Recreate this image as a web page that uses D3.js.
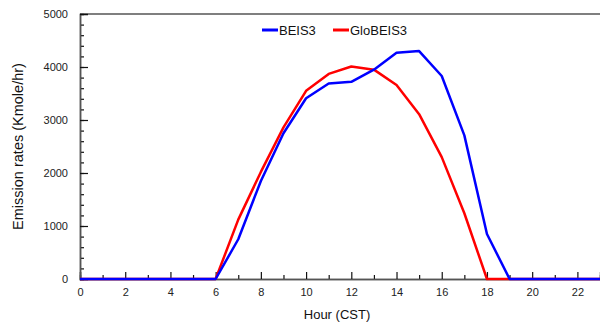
<!DOCTYPE html>
<html>
<head>
<meta charset="utf-8">
<script src="https://cdn.jsdelivr.net/npm/d3@7"></script>
<style>
  body { margin: 0; background: #fff; }
  svg { display: block; font-family: Arial, "Liberation Sans", sans-serif; }
</style>
</head>
<body>
<div id="chart"></div>
<script>
const hours = d3.range(0, 24);
const beis3 = [0, 0, 0, 0, 0, 0, 0, 750, 1850, 2750, 3410, 3690, 3720, 3950, 4270, 4300, 3830, 2710, 850, 0, 0, 0, 0, 0];
const globeis3 = [0, 0, 0, 0, 0, 0, 0, 1120, 2020, 2860, 3550, 3870, 4010, 3950, 3660, 3110, 2300, 1240, 0, 0, 0, 0, 0, 0];
const xTicks = [0, 2, 4, 6, 8, 10, 12, 14, 16, 18, 20, 22];
const yTicks = [0, 1000, 2000, 3000, 4000, 5000];
const seriesNames = ["BEIS3", "GloBEIS3"];
const seriesColors = ["#0000ff", "#ff0000"];

const width = 600, height = 324;
const margin = { top: 14, right: 0, bottom: 45, left: 80 };

const svg = d3.select("#chart").append("svg")
  .attr("width", width)
  .attr("height", height);

const x = d3.scaleLinear().domain([0, 23]).range([margin.left, width - margin.right]);
const y = d3.scaleLinear().domain([0, 5000]).range([height - margin.bottom, margin.top]);

const axisColor = "#555";
const fontStack = "Arial, 'Liberation Sans', sans-serif";

// top frame line
svg.append("line")
  .attr("x1", x(0)).attr("x2", x(23))
  .attr("y1", y(5000)).attr("y2", y(5000))
  .attr("stroke", axisColor).attr("stroke-width", 1.5);

// x axis: minor ticks then major ticks pointing inward
const xMinor = svg.append("g").attr("transform", `translate(0,${y(0)})`)
  .call(d3.axisTop(x).tickValues(d3.range(1, 23, 2)).tickSize(4).tickFormat(""));
const xMajor = svg.append("g").attr("transform", `translate(0,${y(0)})`)
  .call(d3.axisTop(x).tickValues(xTicks).tickSize(7).tickFormat(""));
svg.append("g").attr("transform", `translate(0,${y(0)})`)
  .call(d3.axisBottom(x).tickValues(xTicks).tickSize(0).tickPadding(9).tickFormat(d3.format("d")))
  .call(g => g.select(".domain").remove())
  .call(g => g.selectAll("text").attr("font-size", 11).attr("fill", "#222").attr("font-family", fontStack));

// y axis
const yMinor = svg.append("g").attr("transform", `translate(${x(0)},0)`)
  .call(d3.axisRight(y).tickValues(d3.range(0, 5001, 200)).tickSize(4).tickFormat(""));
const yMajor = svg.append("g").attr("transform", `translate(${x(0)},0)`)
  .call(d3.axisRight(y).tickValues(yTicks).tickSize(8).tickFormat(""));
svg.append("g").attr("transform", `translate(${x(0)},0)`)
  .call(d3.axisLeft(y).tickValues(yTicks).tickSize(0).tickPadding(12).tickFormat(d3.format("d")))
  .call(g => g.select(".domain").remove())
  .call(g => g.selectAll("text").attr("font-size", 11).attr("fill", "#222").attr("font-family", fontStack));

[xMinor, xMajor, yMinor, yMajor].forEach(g => {
  g.selectAll("line").attr("stroke", "#111").attr("stroke-width", 1.2);
  g.select(".domain").attr("stroke", axisColor).attr("stroke-width", 1.5);
});

// series
const line = d3.line().x((d, i) => x(hours[i])).y(d => y(d));
[globeis3, beis3].forEach((vals, k) => {
  svg.append("path")
    .datum(vals)
    .attr("fill", "none")
    .attr("stroke", k === 0 ? seriesColors[1] : seriesColors[0])
    .attr("stroke-width", 2.5)
    .attr("stroke-linejoin", "round")
    .attr("d", line);
});

// legend
const legend = svg.append("g").attr("transform", "translate(262,30)");
const legendOffsets = [0, 71];
seriesNames.forEach((name, i) => {
  const g = legend.append("g").attr("transform", `translate(${legendOffsets[i]},0)`);
  g.append("line").attr("x1", 0).attr("x2", 16).attr("y1", 0).attr("y2", 0)
    .attr("stroke", seriesColors[i]).attr("stroke-width", 3);
  g.append("text").attr("x", 17).attr("y", 5)
    .attr("font-size", 13).attr("fill", "#111").text(name);
});

// axis titles
svg.append("text")
  .attr("transform", `translate(23,${(y(0) + y(5000)) / 2}) rotate(-90)`)
  .attr("text-anchor", "middle")
  .attr("font-size", 14.5).attr("fill", "#111")
  .text("Emission rates (Kmole/hr)");
svg.append("text")
  .attr("x", 337).attr("y", 319)
  .attr("text-anchor", "middle")
  .attr("font-size", 13).attr("fill", "#111")
  .text("Hour (CST)");
</script>
</body>
</html>
